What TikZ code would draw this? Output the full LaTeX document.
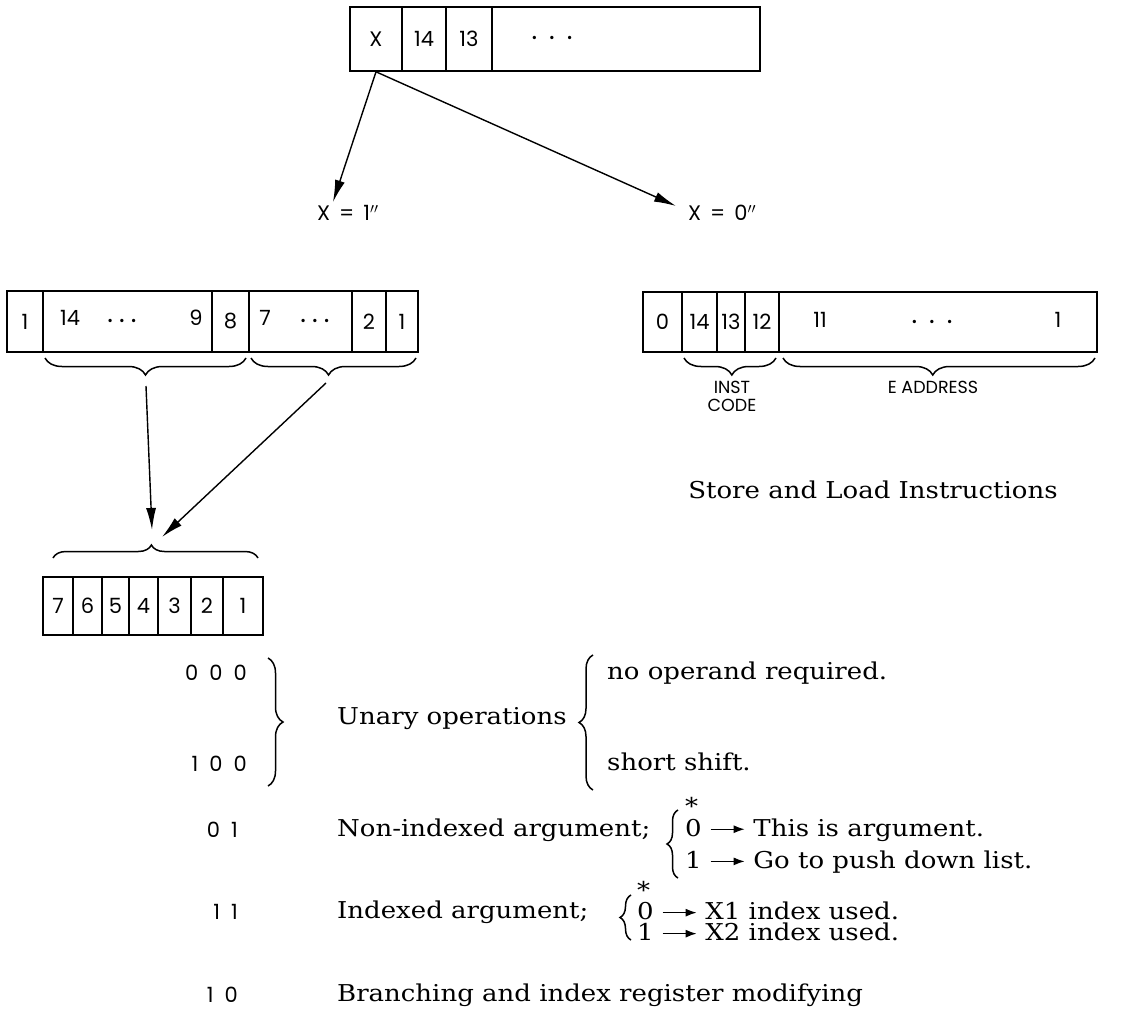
\documentclass[tikz,border=0pt]{standalone}
\usepackage{fontspec}
\setmainfont{DejaVu Serif}
\newfontfamily\txtfont{DejaVu Serif}[FakeStretch=1.12]
\newfontfamily\boxfont{Poppins}
\usetikzlibrary{decorations.pathreplacing,arrows.meta}
\newcommand\solidarr{\tikz[baseline={(0pt,-7pt)}]\draw[line width=1.2pt,-{Latex[length=11pt,width=8pt]}] (0pt,0pt) -- (34pt,0pt);}
\begin{document}
\begin{tikzpicture}[x=1pt,y=-1pt,
  cell/.style={draw, line width=1.6pt, inner sep=0pt, minimum height=#1},
  lbl/.style={font=\boxfont\fontsize{21}{22}\selectfont, inner sep=0pt},
  dots/.style={font=\boxfont\fontsize{27}{22}\selectfont, inner sep=0pt},
  sml/.style={font=\boxfont\fontsize{17.5}{18}\selectfont, inner sep=0pt},
  txt/.style={font=\txtfont\fontsize{23.2}{24}\selectfont, inner sep=0pt, anchor=west},
  brc/.style={decorate, decoration={brace, amplitude=#1}, line width=1.5pt},
  arr/.style={line width=1.4pt, -{Latex[length=22pt,width=10pt]}}]
\useasboundingbox (0,0) rectangle (1121,1032);

% ---- top word
\node[cell=64pt, minimum width=52pt, lbl] (t1) at (376,39) {X};
\node[cell=64pt, minimum width=44pt, lbl] (t2) at (424,39) {14};
\node[cell=64pt, minimum width=46pt, lbl] (t3) at (469,39) {13};
\node[cell=64pt, minimum width=268pt] (t4) at (626,39) {};
\node[dots] (t4d) at (552,38) {.\hspace{12pt}.\hspace{12pt}.};

\node[lbl, anchor=west] (x1) at (317,213) {X\hspace{9pt}=\hspace{9pt}1$''$};
\node[lbl, anchor=west] (x0) at (688,213) {X\hspace{9pt}=\hspace{9pt}0$''$};
\coordinate (x1t) at (333,202);
\coordinate (x0t) at (676,206);
\draw[arr] (t1.south) -- (x1t);
\draw[arr] (t1.south) -- (x0t);

% ---- left word (X = 1)
\node[cell=61pt, minimum width=36pt, lbl] (l1) at (25,321.5) {1};
\node[cell=61pt, minimum width=169pt] (l2) at (127.5,321.5) {};
\node[cell=61pt, minimum width=37pt, lbl] (l3) at (230.5,321.5) {8};
\node[cell=61pt, minimum width=103pt] (l4) at (300.5,321.5) {};
\node[cell=61pt, minimum width=34pt, lbl] (l5) at (369,321.5) {2};
\node[cell=61pt, minimum width=32pt, lbl] (l6) at (402,321.5) {1};
\node[lbl] (l2a) at (70,318) {14};
\node[dots] (l2b) at (122,321) {.\hspace{6pt}.\hspace{6pt}.};
\node[lbl] (l2c) at (196,318) {9};
\node[lbl] (l4a) at (265,318) {7};
\node[dots] (l4b) at (315,321) {.\hspace{6pt}.\hspace{6pt}.};

\draw[brc=17pt] (246,358) -- (45,358);
\draw[brc=17pt, decoration={aspect=0.53}] (416,358) -- (251,358);
\coordinate (b1) at (146,386);
\coordinate (b2) at (326,383);
\coordinate (c1) at (152,530);
\coordinate (c2) at (162,537);
\draw[arr] (b1) -- (c1);
\draw[arr] (b2) -- (c2);

% ---- bottom 7-bit field
\draw[brc=13pt, decoration={aspect=0.48}] (53,558) -- (258,558);
\node[cell=58pt, minimum width=30pt, lbl] (s7) at (58,606) {7};
\node[cell=58pt, minimum width=29pt, lbl] (s6) at (87.5,606) {6};
\node[cell=58pt, minimum width=27pt, lbl] (s5) at (115.5,606) {5};
\node[cell=58pt, minimum width=29pt, lbl] (s4) at (143.5,606) {4};
\node[cell=58pt, minimum width=33pt, lbl] (s3) at (174.5,606) {3};
\node[cell=58pt, minimum width=32pt, lbl] (s2) at (207,606) {2};
\node[cell=58pt, minimum width=40pt, lbl] (s1) at (243,606) {1};

% ---- right word (X = 0)
\node[cell=60pt, minimum width=39pt, lbl] (r1) at (662.5,322) {0};
\node[cell=60pt, minimum width=35pt, lbl] (r2) at (699.5,322) {14};
\node[cell=60pt, minimum width=28pt, lbl] (r3) at (731,322) {13};
\node[cell=60pt, minimum width=34pt, lbl] (r4) at (762,322) {12};
\node[cell=60pt, minimum width=318pt] (r5) at (938,322) {};
\node[lbl] (r5a) at (820,320) {11};
\node[dots] (r5b) at (932,322) {.\hspace{12pt}.\hspace{12pt}.};
\node[lbl] (r5c) at (1058,320) {1};
\draw[brc=17pt, decoration={aspect=0.48}] (776,358) -- (684,358);
\draw[brc=17pt, decoration={aspect=0.52}] (1095,358) -- (783,358);
\node[sml, align=center] (ic) at (732,396) {INST\\CODE};
\node[sml] (ea) at (933,387) {E ADDRESS};
\node[txt, anchor=center] (sl) at (873,490) {Store and Load Instructions};

% ---- table
\node[lbl, anchor=east] (c000) at (247,673) {0\hspace{11pt}0\hspace{11pt}0};
\node[lbl, anchor=east] (c100) at (247,764) {1\hspace{11pt}0\hspace{11pt}0};
\draw[brc=15pt] (268,658) -- (268,786);
\node[txt] (un) at (337,719) {Unary operations};
\draw[brc=14pt] (593,790) -- (593,655);
\node[txt] (no) at (607,673) {no operand required.};
\node[txt] (ss) at (607,762) {short shift.};

\node[lbl, anchor=east] (c01) at (238,830) {0\hspace{11pt}1};
\node[txt] (ni) at (337,830) {Non-indexed argument;};
\draw[brc=11pt] (678,878) -- (678,810);
\node[txt] (st1) at (685,806) {*};
\node[txt] (ni0) at (685,830) {0 \solidarr{} This is argument.};
\node[txt] (ni1) at (685,862) {1 \solidarr{} Go to push down list.};

\node[lbl, anchor=east] (c11) at (238,912) {1\hspace{11pt}1};
\node[txt] (ia) at (337,912) {Indexed argument;};
\draw[brc=11pt] (631,940) -- (631,895);
\node[txt] (st2) at (637,890) {*};
\node[txt] (ia0) at (637,911) {0 \solidarr{} X1 index used.};
\node[txt] (ia1) at (637,932) {1 \solidarr{} X2 index used.};

\node[lbl, anchor=east] (c10) at (238,995) {1\hspace{11pt}0};
\node[txt] (br) at (337,995) {Branching and index register modifying};
\end{tikzpicture}
\end{document}
